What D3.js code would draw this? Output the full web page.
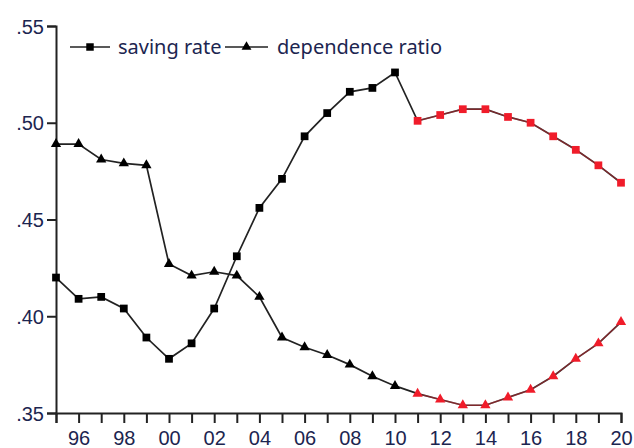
<!DOCTYPE html>
<html>
<head>
<meta charset="utf-8">
<script src="https://cdn.jsdelivr.net/npm/d3@7"></script>
<style>
  body { margin: 0; background: #fff; }
  svg { display: block; }
</style>
</head>
<body>
<div></div>
<script>
const years = d3.range(1995, 2021);
const savingRate = [
  0.420, 0.409, 0.410, 0.404, 0.389, 0.378, 0.386, 0.404, 0.431, 0.456,
  0.471, 0.493, 0.505, 0.516, 0.518, 0.526, 0.501, 0.504, 0.507, 0.507,
  0.503, 0.500, 0.493, 0.486, 0.478, 0.469
];
const dependenceRatio = [
  0.489, 0.489, 0.481, 0.479, 0.478, 0.427, 0.421, 0.423, 0.421, 0.410,
  0.389, 0.384, 0.380, 0.375, 0.369, 0.364, 0.360, 0.357, 0.354, 0.354,
  0.358, 0.362, 0.369, 0.378, 0.386, 0.397
];
const forecastStart = 2011;
const yTicks = [0.35, 0.40, 0.45, 0.50, 0.55];
const xLabelYears = d3.range(1996, 2021, 2);

const w = 634;
const h = 448;

const svg = d3
  .select('body')
  .select('div')
  .append('svg')
  .attr('width', w)
  .attr('height', h);

const x = d3.scaleLinear().domain([1995, 2020]).range([56, 621]);
const y = d3.scaleLinear().domain([0.35, 0.55]).range([413, 26]);

const textColor = '#1c2550';

// axes
const xAxis = d3
  .axisBottom(x)
  .tickValues(years)
  .tickSize(10)
  .tickPadding(8)
  .tickFormat((d) => (xLabelYears.includes(d) ? String(d).slice(2) : ''));

const yAxis = d3
  .axisLeft(y)
  .tickValues(yTicks)
  .tickSize(9)
  .tickPadding(3)
  .tickFormat((d) => d3.format('.2f')(d).replace(/^0/, ''));

const gx = svg
  .append('g')
  .attr('transform', 'translate(0,' + y(0.35) + ')')
  .call(xAxis);

const gy = svg
  .append('g')
  .attr('transform', 'translate(' + x(1995) + ',0)')
  .call(yAxis);

[gx, gy].forEach((g) => {
  g.attr('font-family', '"Liberation Sans", Arial, sans-serif').attr('font-size', 20);
  g.select('.domain').attr('stroke', '#222').attr('stroke-width', 2);
  g.selectAll('.tick line').attr('stroke', '#222').attr('stroke-width', 2);
  g.selectAll('.tick text').attr('fill', textColor);
});
gy.selectAll('.tick text').attr('dy', '0.36em');
gx.selectAll('.tick text').attr('dy', '0.71em');

// series
const series = [
  { name: 'saving rate', values: savingRate, symbol: d3.symbolSquare, size: 60 },
  { name: 'dependence ratio', values: dependenceRatio, symbol: d3.symbolTriangle, size: 46 }
];

const line = d3
  .line()
  .x((d) => x(d.year))
  .y((d) => y(d.value));

series.forEach((s) => {
  const pts = years.map((yr, i) => ({ year: yr, value: s.values[i] }));

  svg
    .append('path')
    .datum(pts)
    .attr('d', line)
    .attr('fill', 'none')
    .attr('stroke', '#222')
    .attr('stroke-width', 1.7);

  svg
    .append('path')
    .datum(pts.filter((d) => d.year >= forecastStart))
    .attr('d', line)
    .attr('fill', 'none')
    .attr('stroke', '#f0303a')
    .attr('stroke-opacity', 0.45)
    .attr('stroke-width', 1.4);

  svg
    .selectAll(null)
    .data(pts)
    .enter()
    .append('path')
    .attr('d', d3.symbol().type(s.symbol).size(s.size))
    .attr('transform', (d) => 'translate(' + x(d.year) + ',' + y(d.value) + ')')
    .attr('fill', (d) => (d.year >= forecastStart ? '#f01c2a' : '#000'));
});

// legend
const legendItems = [
  { x1: 70, x2: 110, tx: 118, label: 'saving rate', symbol: d3.symbolSquare, size: 56 },
  { x1: 225, x2: 268, tx: 277, label: 'dependence ratio', symbol: d3.symbolTriangle, size: 42 }
];
const legend = svg.append('g').attr('transform', 'translate(0,47)');
legendItems.forEach((it) => {
  legend
    .append('line')
    .attr('x1', it.x1)
    .attr('x2', it.x2)
    .attr('y1', 0)
    .attr('y2', 0)
    .attr('stroke', '#222')
    .attr('stroke-width', 1.7);
  legend
    .append('path')
    .attr('d', d3.symbol().type(it.symbol).size(it.size))
    .attr('transform', 'translate(' + (it.x1 + it.x2) / 2 + ',0)')
    .attr('fill', '#000');
  legend
    .append('text')
    .attr('x', it.tx)
    .attr('y', 0)
    .attr('dy', '0.33em')
    .attr('fill', textColor)
    .style('font-family', '"Noto Sans", sans-serif')
    .style('font-size', '20px')
    .text(it.label);
});
</script>
</body>
</html>
